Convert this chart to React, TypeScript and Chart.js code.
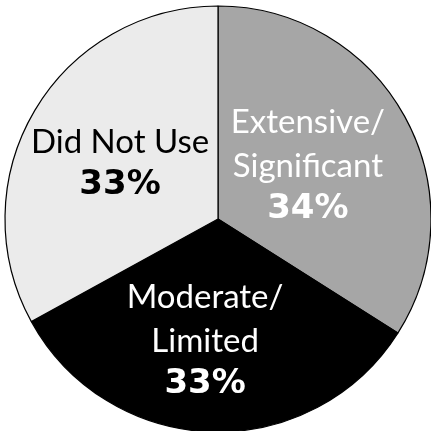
import React, { useEffect, useRef } from "react";
import { Chart, registerables } from "chart.js";

Chart.register(...registerables);

const categories = ["Extensive/Significant", "Moderate/Limited", "Did Not Use"];
const labelLines = [["Extensive/", "Significant"], ["Moderate/", "Limited"], ["Did Not Use"]];
const values = [34, 33, 33];
const sliceColors = ["#a6a6a6", "#000000", "#ebebeb"];
const textColors = ["#ffffff", "#ffffff", "#000000"];
// label placement: fraction of radius along slice mid angle, plus angle nudge (deg)
const labelFrac = [0.496, 0.562, 0.532];
const labelAngleNudge = [-2.9, 4.4, -0.4];

const NAME_FONT = "400 33px Lato, 'Open Sans', sans-serif";
const PCT_FONT = "700 34px 'DejaVu Sans', sans-serif";
const NAME_LH = 44;
const PCT_GAP = 41;
const CAP = 24;

const labelPlugin = {
  id: "sliceLabels",
  afterDatasetsDraw(chart: any) {
    const ctx = chart.ctx;
    const meta = chart.getDatasetMeta(0);
    meta.data.forEach((arc: any, i: number) => {
      const { x, y, startAngle, endAngle, outerRadius } = arc.getProps(
        ["x", "y", "startAngle", "endAngle", "outerRadius"],
        true
      );
      const mid = (startAngle + endAngle) / 2 + (labelAngleNudge[i] * Math.PI) / 180;
      const r = outerRadius * labelFrac[i];
      const cx = x + Math.cos(mid) * r;
      const cy = y + Math.sin(mid) * r;
      const lines = labelLines[i];
      const blockH = CAP + (lines.length - 1) * NAME_LH + PCT_GAP;
      const base = cy - blockH / 2 + CAP;
      ctx.save();
      ctx.fillStyle = textColors[i];
      ctx.textAlign = "center";
      ctx.textBaseline = "alphabetic";
      ctx.font = NAME_FONT;
      lines.forEach((ln, k) => {
        ctx.fillText(ln, cx, base + k * NAME_LH);
      });
      ctx.font = PCT_FONT;
      ctx.fillText(values[i] + "%", cx, base + (lines.length - 1) * NAME_LH + PCT_GAP);
      ctx.restore();
    });
  },
};

export default function App() {
  const ref = useRef<HTMLCanvasElement | null>(null);
  useEffect(() => {
    if (!ref.current) return;
    const chart = new Chart(ref.current, {
      type: "pie",
      data: {
        labels: categories,
        datasets: [
          {
            data: values,
            backgroundColor: sliceColors,
            borderColor: "#000000",
            borderWidth: 1.2,
            clip: false as any,
          },
        ],
      },
      options: {
        animation: false,
        responsive: false,
        radius: 213,
        layout: { padding: { left: 5, right: 0, top: 7, bottom: 0 } },
        plugins: {
          legend: { display: false },
          tooltip: { enabled: false },
        },
      } as any,
      plugins: [labelPlugin],
    });
    return () => chart.destroy();
  }, []);
  return (
    <div style={{ position: "absolute", left: 0, top: 0, width: 431, height: 431, background: "#fff" }}>
      <canvas ref={ref} width={431} height={431} style={{ width: 431, height: 431 }} />
    </div>
  );
}
